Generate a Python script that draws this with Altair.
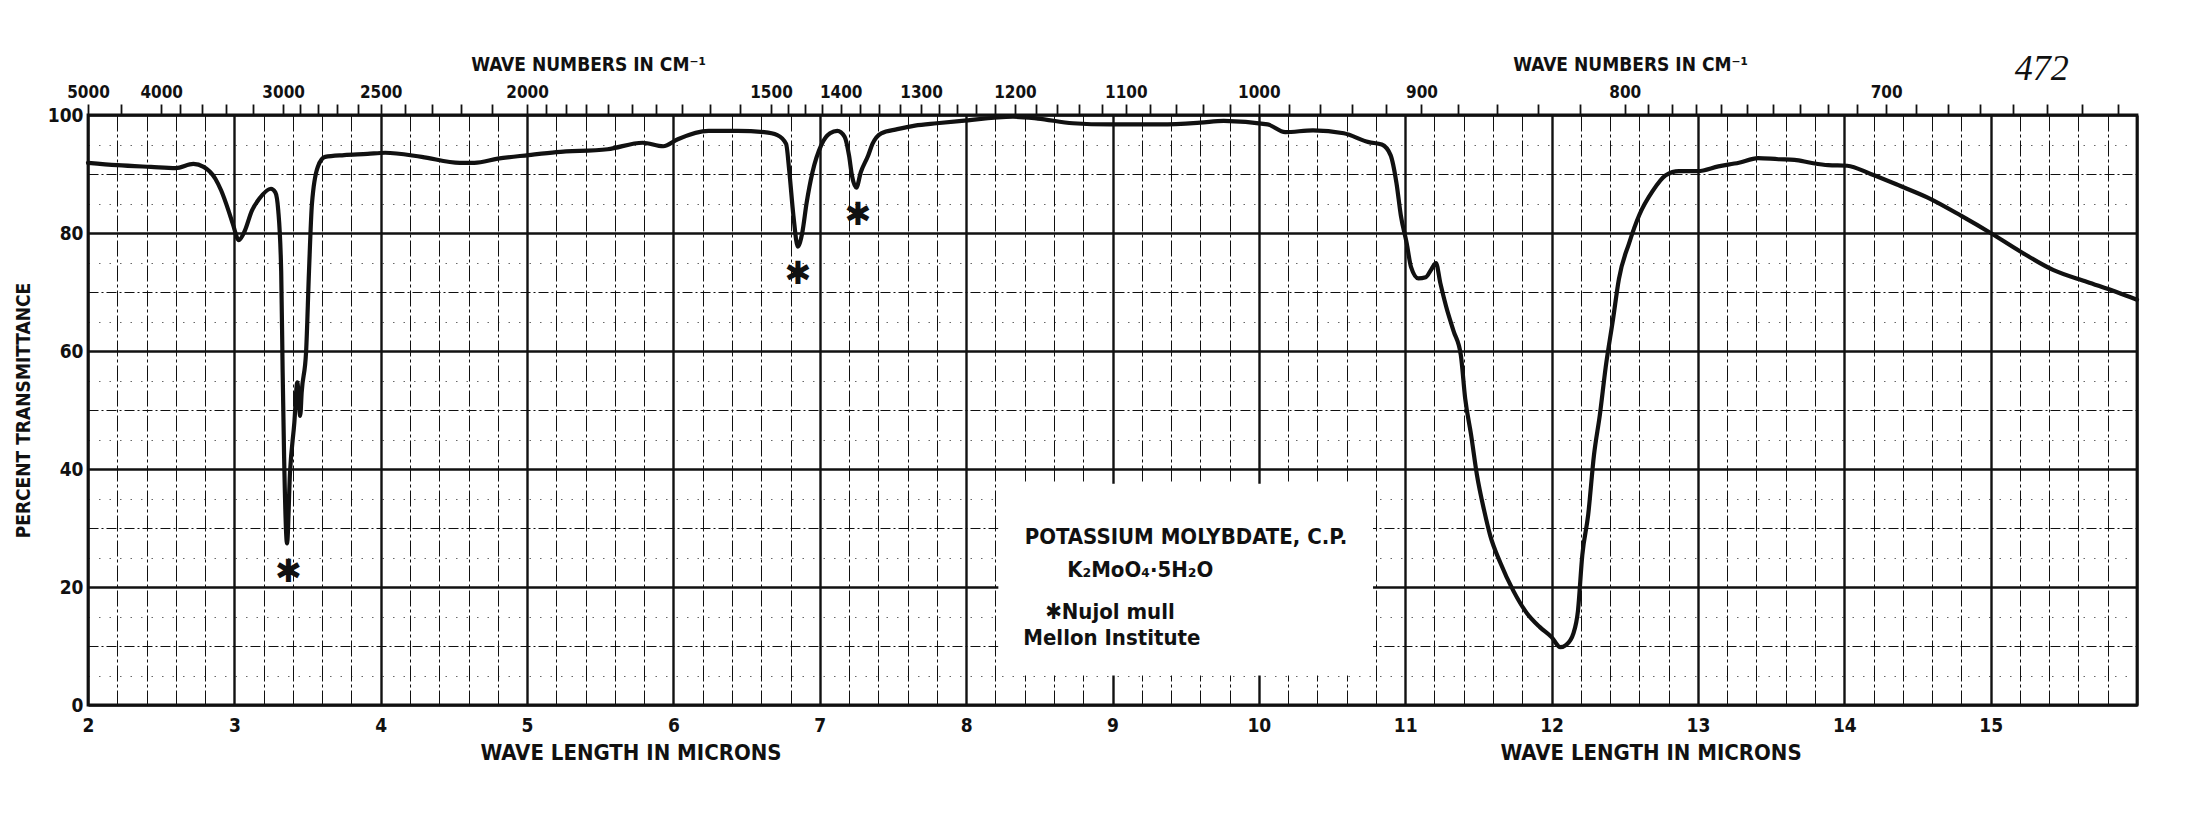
import altair as alt
import pandas as pd

# ---------------- data ----------------
wavelength_um = [
    2.00, 2.20, 2.43, 2.60, 2.72, 2.79, 2.87, 2.91, 2.96, 2.99, 3.03, 3.07, 3.12, 3.17,
    3.25, 3.28, 3.30, 3.32, 3.33, 3.34, 3.36, 3.38, 3.41, 3.43, 3.45, 3.46, 3.49, 3.51,
    3.53, 3.57, 3.62, 3.75, 3.91, 4.03, 4.28, 4.54, 4.64, 4.80, 5.01, 5.20, 5.55, 5.79,
    5.93, 6.03, 6.24, 6.44, 6.62, 6.71, 6.77, 6.79, 6.82, 6.85, 6.88, 6.91, 6.95, 7.01,
    7.07, 7.12, 7.17, 7.20, 7.22, 7.25, 7.28, 7.33, 7.36, 7.42, 7.53, 7.65, 7.80, 7.97,
    8.32, 8.49, 8.73, 8.98, 9.33, 9.60, 9.76, 10.06, 10.18, 10.37, 10.58, 10.75, 10.84,
    10.90, 10.94, 10.97, 11.01, 11.04, 11.09, 11.14, 11.18, 11.21, 11.24, 11.28, 11.33,
    11.38, 11.41, 11.45, 11.49, 11.54, 11.58, 11.65, 11.74, 11.83, 11.92, 12.00, 12.06,
    12.10, 12.15, 12.18, 12.21, 12.25, 12.29, 12.33, 12.37, 12.42, 12.46, 12.53, 12.60,
    12.69, 12.78, 12.87, 13.00, 13.14, 13.28, 13.41, 13.55, 13.66, 13.77, 13.89, 14.02,
    14.18, 14.38, 14.57, 14.80, 15.00, 15.20, 15.43, 15.66, 15.86, 16.00,
]
transmittance_pct = [
    91.9, 91.5, 91.2, 91.0, 91.7, 91.2, 89.2, 87.2, 83.8, 81.5, 78.8, 80.3, 83.8, 85.8,
    87.5, 86.9, 83.8, 73.5, 56.4, 42.0, 27.4, 39.3, 47.9, 54.7, 49.0, 53.0, 59.8, 73.5,
    84.9, 91.2, 92.9, 93.2, 93.4, 93.6, 92.9, 91.9, 91.9, 92.6, 93.2, 93.7, 94.2, 95.3,
    94.7, 95.9, 97.3, 97.3, 97.1, 96.6, 95.1, 90.9, 82.9, 77.7, 80.0, 85.1, 90.3, 94.9,
    96.9, 97.3, 96.3, 93.1, 89.7, 87.7, 90.3, 93.1, 95.1, 96.9, 97.6, 98.2, 98.6, 99.0,
    99.7, 99.4, 98.6, 98.4, 98.4, 98.7, 99.0, 98.4, 97.1, 97.4, 96.9, 95.4, 95.0,
    93.2, 88.5, 83.0, 78.3, 74.2, 72.3, 72.5, 73.9, 74.9, 71.5, 67.5, 63.4,
    59.3, 51.9, 45.8, 39.0, 32.9, 28.8, 24.1, 19.3, 15.6, 13.2, 11.5, 9.8,
    10.2, 12.2, 15.9, 25.4, 32.2, 42.4, 49.2, 57.3, 65.4, 72.2, 78.3, 83.1,
    87.1, 89.8, 90.5, 90.5, 91.3, 91.9, 92.7, 92.5, 92.4, 91.9, 91.5, 91.4,
    90.0, 88.0, 86.0, 82.9, 80.0, 76.9, 73.7, 71.7, 70.0, 68.7,
]

# top (wave number) axis
top_tick_wavenumbers = (
    [5000, 4500, 4000, 3800, 3600, 3400, 3200, 3000, 2900, 2800, 2700, 2600, 2500,
     2400, 2300, 2200, 2100, 2000]
    + list(range(1950, 1499, -50))
    + list(range(1475, 1299, -25))
    + list(range(1280, 799, -20))
    + list(range(790, 629, -10))
)
top_label_wavenumbers = [5000, 4000, 3000, 2500, 2000, 1500, 1400, 1300, 1200, 1100,
                         1000, 900, 800, 700]

# Nujol marks
nujol_um = [3.37, 6.85, 7.26]
nujol_pct = [22.5, 73.0, 83.0]

# legend box and lines
legend_lines = ["POTASSIUM MOLYBDATE, C.P.", "K\u2082MoO\u2084\u00b75H\u2082O",
                "\u2731Nujol mull", "Mellon Institute"]
legend_um = [8.40, 8.69, 8.54, 8.39]
legend_pct = [28.5, 22.9, 15.8, 11.4]
box_um = [8.22, 10.78]
box_pct = [5.0, 37.5]

top_titles_um = [5.42, 12.54]
bottom_titles_um = [5.71, 12.68]
sheet_number = "472"
sheet_number_um = 15.35

# ---------------- chart ----------------
W, H = 2049, 590
FONT = "'Liberation Sans Narrow', 'DejaVu Sans Condensed', 'Liberation Sans', sans-serif"
INK = "#111111"

xscale = alt.Scale(domain=[2, 16], nice=False, zero=False)
yscale = alt.Scale(domain=[0, 100], nice=False, zero=False)

spec = pd.DataFrame({"um": wavelength_um, "T": transmittance_pct})

x_grid_values = [round(2 + 0.2 * i, 1) for i in range(71)]
y_major_values = list(range(0, 101, 10))
y_minor_values = list(range(5, 100, 10))

bottom_axis = alt.Axis(
    orient="bottom", values=x_grid_values, title=None,
    labelExpr="datum.value % 1 == 0 && datum.value < 16 ? format(datum.value, 'd') : ''",
    labelFont=FONT, labelFontSize=19, labelFontWeight="bold", labelColor=INK,
    labelPadding=11, labelFlush=False, labelOverlap=False, labelBound=False,
    ticks=False, domain=False,
    grid=True, gridColor=INK, gridOpacity=1,
    gridWidth=alt.condition("datum.value % 1 == 0", alt.value(2.4), alt.value(1.0)),
    gridDash=alt.condition("datum.value % 1 == 0", alt.value([]), alt.value([16, 3, 3, 3])),
)

left_axis = alt.Axis(
    orient="left", values=y_major_values, title="PERCENT TRANSMITTANCE",
    titleFont=FONT, titleFontSize=19, titleFontWeight="bold", titleColor=INK,
    titlePadding=14,
    labelExpr="datum.value % 20 == 0 ? format(datum.value, 'd') : ''",
    labelFont=FONT, labelFontSize=19, labelFontWeight="bold", labelColor=INK,
    labelPadding=5, labelOverlap=False, labelFlush=False, labelBound=False,
    ticks=False, domain=False,
    grid=True, gridColor=INK, gridOpacity=1,
    gridWidth=alt.condition("datum.value % 20 == 0", alt.value(2.4), alt.value(1.1)),
    gridDash=alt.condition("datum.value % 20 == 0", alt.value([]), alt.value([10, 3, 2, 3])),
)

minor_y_axis = alt.Axis(
    orient="right", values=y_minor_values, title=None, labels=False,
    ticks=False, domain=False,
    grid=True, gridColor=INK, gridOpacity=0.8, gridWidth=0.8, gridDash=[1.5, 9],
)

top_tick_um = [round(10000 / v, 6) for v in top_tick_wavenumbers]
label_list = ",".join(str(v) for v in top_label_wavenumbers)
top_axis = alt.Axis(
    orient="top", values=top_tick_um, title=None,
    labelExpr=f"indexof([{label_list}], round(10000 / datum.value)) >= 0 ? format(round(10000 / datum.value), 'd') : ''",
    labelFont=FONT, labelFontSize=17, labelFontWeight="bold", labelColor=INK,
    labelPadding=3, labelFlush=False, labelOverlap=False, labelBound=False,
    ticks=True, tickSize=11, tickWidth=1.8, tickColor=INK,
    grid=False, domain=False,
)

box_df = pd.DataFrame({"x0": [box_um[0]], "x1": [box_um[1]],
                       "y0": [box_pct[0]], "y1": [box_pct[1]]})
box = alt.Chart(box_df).mark_rect(color="white").encode(
    x=alt.X("x0:Q", scale=xscale, axis=None), x2="x1:Q",
    y=alt.Y("y0:Q", scale=yscale, axis=minor_y_axis), y2="y1:Q",
)

line = alt.Chart(spec).mark_line(color=INK, strokeWidth=4.2, interpolate="monotone",
                                 strokeJoin="round", strokeCap="round").encode(
    x=alt.X("um:Q", scale=xscale, axis=bottom_axis),
    y=alt.Y("T:Q", scale=yscale, axis=left_axis),
)

nujol_df = pd.DataFrame({"um": nujol_um, "T": nujol_pct, "s": ["\u2731"] * len(nujol_um)})
nujol = alt.Chart(nujol_df).mark_text(
    font="DejaVu Sans", fontSize=32, color=INK, baseline="middle", align="center"
).encode(
    x=alt.X("um:Q", scale=xscale, axis=top_axis),
    y=alt.Y("T:Q", scale=yscale, axis=None),
    text="s:N",
)

legend_df = pd.DataFrame({"um": legend_um, "T": legend_pct, "t": legend_lines})
legend = alt.Chart(legend_df).mark_text(
    font=FONT, fontSize=22, fontWeight="bold", color=INK, align="left", baseline="middle"
).encode(
    x=alt.X("um:Q", scale=xscale, axis=None),
    y=alt.Y("T:Q", scale=yscale, axis=None),
    text="t:N",
)

top_df = pd.DataFrame({"um": top_titles_um, "t": ["WAVE  NUMBERS  IN  CM\u207b\u00b9"] * 2})
top_titles = alt.Chart(top_df).mark_text(
    font=FONT, fontSize=19, fontWeight="bold", color=INK, align="center", baseline="middle"
).encode(
    x=alt.X("um:Q", scale=xscale, axis=None),
    y=alt.value(-50),
    text="t:N",
)

bot_df = pd.DataFrame({"um": bottom_titles_um, "t": ["WAVE  LENGTH  IN  MICRONS"] * 2})
bottom_titles = alt.Chart(bot_df).mark_text(
    font=FONT, fontSize=22, fontWeight="bold", color=INK, align="center", baseline="middle"
).encode(
    x=alt.X("um:Q", scale=xscale, axis=None),
    y=alt.value(H + 48),
    text="t:N",
)

num_df = pd.DataFrame({"um": [sheet_number_um], "t": [sheet_number]})
sheet = alt.Chart(num_df).mark_text(
    font="Liberation Serif", fontSize=36, fontStyle="italic", color=INK,
    align="center", baseline="middle"
).encode(
    x=alt.X("um:Q", scale=xscale, axis=None),
    y=alt.value(-46),
    text="t:N",
)

chart = (
    alt.layer(box, line, nujol, legend, top_titles, bottom_titles, sheet)
    .resolve_axis(x="independent", y="independent")
    .properties(
        width=W, height=H,
        autosize=alt.AutoSizeParams(type="none"),
        padding={"left": 80, "top": 107, "right": 53, "bottom": 106},
        background="white",
    )
    .configure_view(stroke=INK, strokeWidth=2.8)
)

chart.save("out.html", embed_options={"renderer": "svg", "actions": False})
